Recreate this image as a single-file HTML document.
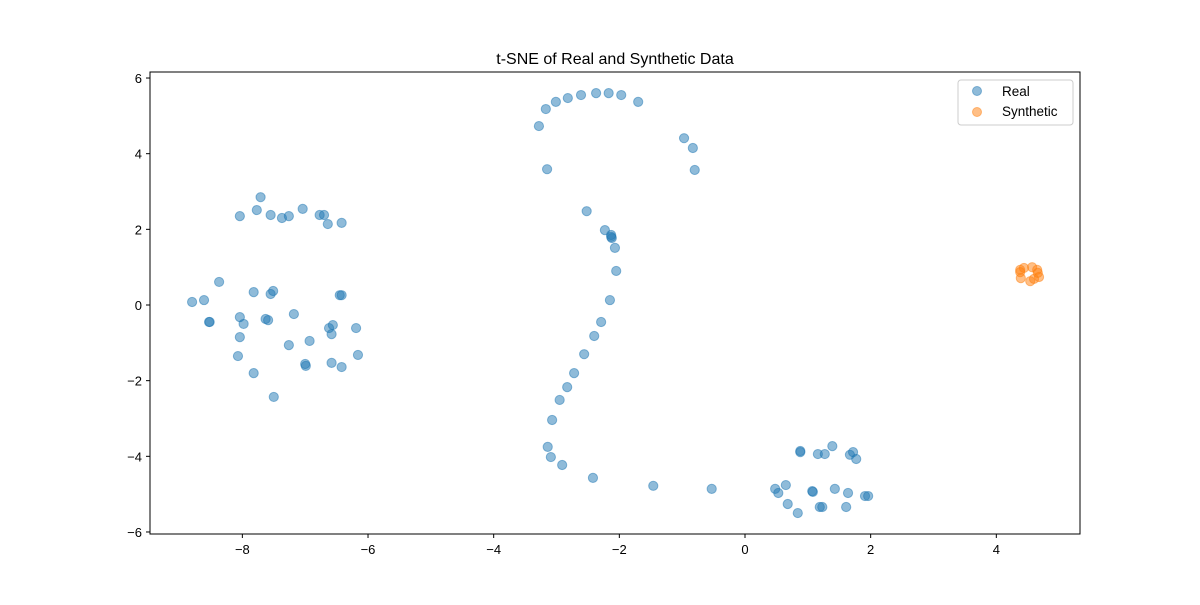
<!DOCTYPE html>
<html><head><meta charset="utf-8"><style>
body{margin:0;background:#fff;}
svg text{font-family:"Liberation Sans","DejaVu Sans",sans-serif;fill:#000;}
</style></head><body>
<svg id="chart" width="1200" height="600" viewBox="0 0 1200 600">
<rect x="0" y="0" width="1200" height="600" fill="#fff"/>
<g id="pts"></g>
<rect x="150" y="72" width="930" height="462" fill="none" stroke="#000" stroke-width="1"/>
<g id="axes"></g>
<text x="615" y="64" font-size="16" text-anchor="middle">t-SNE of Real and Synthetic Data</text>
<g>
<rect x="958" y="80" width="115" height="45" rx="3" fill="#fff" fill-opacity="0.8" stroke="#ccc"/>
<g><circle cx="977" cy="91" r="4.5" fill="#1f77b4" fill-opacity="0.5" stroke="#1f77b4" stroke-opacity="0.5"/><text x="1002" y="96" font-size="13.5">Real</text></g>
<g><circle cx="977" cy="112" r="4.5" fill="#ff7f0e" fill-opacity="0.5" stroke="#ff7f0e" stroke-opacity="0.5"/><text x="1002" y="116" font-size="13.5">Synthetic</text></g>
</g>
</svg>
<script>
const realX=[-8.04,-7.71,-7.77,-7.55,-7.37,-7.26,-7.04,-6.77,-6.70,-6.64,-6.42,
-8.80,-8.61,-8.37,-8.52,-8.53,-8.04,-7.98,-8.04,-8.07,-7.82,-7.82,-7.55,-7.51,-7.63,-7.59,-7.26,-7.18,-6.93,-6.99,-7.00,-6.62,-6.56,-6.58,-6.58,-6.45,-6.42,-6.42,-6.19,-6.16,-7.50,
-3.28,-3.17,-3.01,-2.82,-2.61,-2.37,-2.17,-1.97,-1.70,-0.97,-0.83,-0.80,-3.15,
-2.52,-2.23,-2.13,-2.12,-2.13,-2.07,-2.05,-2.15,-2.29,-2.40,-2.56,-2.72,-2.83,-2.95,-3.07,-3.14,-3.09,-2.91,-2.42,-1.46,-0.53,
0.48,0.53,0.65,0.68,0.84,0.88,0.88,1.07,1.08,1.16,1.27,1.39,1.43,1.61,1.67,1.72,1.64,1.77,1.91,1.96,1.19,1.23];
const realY=[2.35,2.85,2.51,2.38,2.30,2.35,2.54,2.38,2.38,2.14,2.17,
0.08,0.13,0.61,-0.45,-0.45,-0.32,-0.50,-0.85,-1.35,0.34,-1.80,0.29,0.37,-0.37,-0.40,-1.06,-0.24,-0.95,-1.61,-1.56,-0.61,-0.53,-0.77,-1.53,0.26,0.26,-1.64,-0.61,-1.32,-2.43,
4.73,5.18,5.37,5.47,5.55,5.60,5.60,5.55,5.37,4.41,4.15,3.57,3.59,
2.48,1.98,1.85,1.77,1.80,1.51,0.90,0.13,-0.45,-0.82,-1.30,-1.80,-2.17,-2.51,-3.04,-3.75,-4.02,-4.23,-4.57,-4.78,-4.86,
-4.86,-4.97,-4.76,-5.26,-5.50,-3.86,-3.89,-4.92,-4.94,-3.94,-3.94,-3.73,-4.86,-5.34,-3.96,-3.89,-4.97,-4.07,-5.05,-5.05,-5.34,-5.34];
const synX=[4.38,4.44,4.57,4.65,4.66,4.39,4.54,4.60,4.68,4.38];
const synY=[0.93,0.98,1.00,0.93,0.85,0.71,0.63,0.69,0.74,0.87];
const xTicks=[-8,-6,-4,-2,0,2,4];
const yTicks=[-6,-4,-2,0,2,4,6];
const xTickLabels=["−8","−6","−4","−2","0","2","4"];
const yTickLabels=["−6","−4","−2","0","2","4","6"];

const NS="http://www.w3.org/2000/svg";
const sx=v=>745+v*62.83;
const sy=v=>305-v*37.83;
const pts=document.getElementById('pts');
const axes=document.getElementById('axes');
function dot(x,y,c,name){
  const e=document.createElementNS(NS,'circle');
  e.setAttribute('cx',sx(x));e.setAttribute('cy',sy(y));e.setAttribute('r',4.6);
  e.setAttribute('fill',c);e.setAttribute('fill-opacity',0.5);
  e.setAttribute('stroke',c);e.setAttribute('stroke-opacity',0.5);e.setAttribute('stroke-width',1);
  
  
  pts.appendChild(e);
}
realX.forEach((x,i)=>dot(x,realY[i],'#1f77b4','real-point'));
synX.forEach((x,i)=>dot(x,synY[i],'#ff7f0e','synthetic-point'));
xTicks.forEach((t,i)=>{
  const l=document.createElementNS(NS,'line');
  l.setAttribute('x1',sx(t));l.setAttribute('x2',sx(t));l.setAttribute('y1',534);l.setAttribute('y2',538);l.setAttribute('stroke','#000');
  
  
  axes.appendChild(l);
  const tx=document.createElementNS(NS,'text');
  tx.setAttribute('x',sx(t));tx.setAttribute('y',554);tx.setAttribute('font-size','13');tx.setAttribute('text-anchor','middle');
  tx.textContent=xTickLabels[i];
  
  
  axes.appendChild(tx);
});
yTicks.forEach((t,i)=>{
  const l=document.createElementNS(NS,'line');
  l.setAttribute('x1',146);l.setAttribute('x2',150);l.setAttribute('y1',sy(t));l.setAttribute('y2',sy(t));l.setAttribute('stroke','#000');
  
  
  axes.appendChild(l);
  const tx=document.createElementNS(NS,'text');
  tx.setAttribute('x',142);tx.setAttribute('y',sy(t)+5);tx.setAttribute('font-size','13');tx.setAttribute('text-anchor','end');
  tx.textContent=yTickLabels[i];
  
  
  axes.appendChild(tx);
});
</script>
</body></html>
